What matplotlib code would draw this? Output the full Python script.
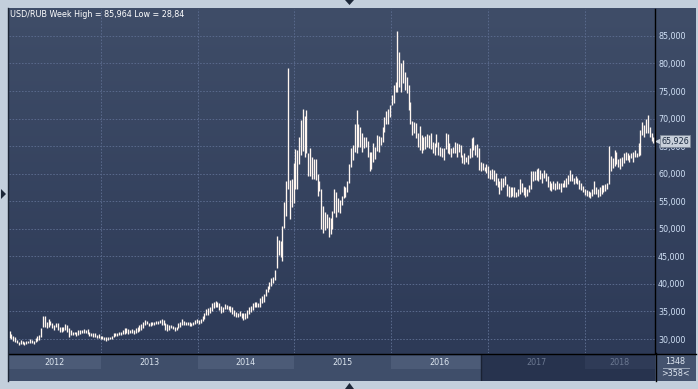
import numpy as np
import pandas as pd
import matplotlib
matplotlib.use("Agg")
import matplotlib.pyplot as plt
import matplotlib.dates as mdates
import matplotlib.transforms as mtransforms
from matplotlib.colors import LinearSegmentedColormap
from matplotlib.lines import Line2D
from matplotlib.patches import Rectangle, Polygon

# =========================
# DATA  (weekly high / low, RUB per USD)
# =========================
FIRST_WEEK = "2012-01-23"

high_2012 = [31.45, 30.90, 30.54, 30.30, 29.82, 29.52, 29.82, 29.70, 29.52, 29.70,
             29.70, 29.94, 29.82, 29.70, 30.12, 30.50, 30.73, 31.94, 34.17, 34.10,
             33.15, 33.57, 33.33, 32.84, 32.54, 32.96, 32.84, 32.24, 32.24, 32.24,
             32.72, 32.54, 31.94, 31.63, 31.33, 31.33, 31.33, 31.63, 31.63, 31.63,
             31.75, 31.70, 31.75, 31.33, 31.03, 31.03, 31.03, 30.73, 30.85, 30.54]
low_2012 = [30.12, 29.95, 29.70, 29.52, 29.21, 28.84, 29.03, 29.09, 28.91, 29.09,
            29.21, 29.33, 29.21, 29.09, 29.52, 29.70, 29.82, 30.42, 32.12, 32.24,
            31.94, 32.24, 32.54, 31.94, 31.63, 32.24, 31.63, 31.33, 31.33, 31.51,
            31.63, 31.33, 30.30, 30.73, 30.73, 30.91, 30.54, 30.73, 30.91, 31.15,
            31.15, 31.00, 30.91, 30.54, 30.54, 30.30, 30.42, 30.12, 30.24, 30.06]

high_2013 = [30.54, 30.42, 30.30, 30.30, 30.42, 30.54, 31.03, 31.03, 31.15, 31.33,
             31.33, 31.60, 31.94, 31.94, 31.75, 31.63, 31.75, 31.63, 31.94, 32.12,
             32.54, 32.72, 33.15, 33.45, 33.33, 32.96, 33.05, 33.15, 33.15, 33.33,
             33.33, 33.45, 33.57, 33.45, 32.84, 32.72, 32.54, 32.54, 32.36, 32.24,
             32.24, 32.84, 33.15, 33.57, 33.33, 33.15, 33.15, 33.15, 32.96, 33.15,
             33.45, 33.57]
low_2013 = [30.06, 29.82, 29.70, 29.82, 29.94, 30.06, 30.42, 30.54, 30.54, 30.73,
            30.73, 30.85, 30.91, 31.03, 30.91, 31.03, 31.03, 30.91, 31.15, 31.33,
            31.51, 31.63, 31.94, 32.54, 32.72, 32.35, 32.45, 32.54, 32.54, 32.72,
            32.72, 32.84, 32.54, 32.54, 31.63, 31.51, 31.63, 31.94, 31.75, 31.51,
            31.63, 31.94, 32.24, 32.54, 32.54, 32.54, 32.54, 32.36, 32.36, 32.54,
            32.72, 32.84]

high_2014 = [33.50, 33.65, 34.20, 34.66, 35.38, 35.57, 35.87, 36.47, 36.78, 36.90,
             36.78, 36.47, 35.99, 35.87, 36.35, 36.17, 35.99, 35.90, 35.87, 35.26,
             34.96, 34.78, 35.14, 34.78, 34.66, 34.66, 35.26, 35.75, 35.99, 36.47,
             36.78, 36.70, 36.59, 37.38, 37.80, 38.16, 39.01, 39.62, 40.41, 41.01,
             41.31, 42.60, 48.70, 48.00, 47.80, 50.50, 54.90, 58.60, 79.10, 58.90,
             59.00, 61.90]
low_2014 = [32.80, 32.90, 33.30, 33.57, 34.36, 34.36, 34.66, 35.14, 35.57, 35.75,
            35.87, 35.26, 34.78, 34.96, 35.38, 35.38, 35.26, 34.90, 34.54, 34.17,
            33.93, 34.05, 34.17, 33.75, 33.45, 33.57, 33.75, 34.54, 34.96, 35.26,
            35.75, 35.75, 35.75, 35.87, 36.59, 36.78, 37.80, 38.59, 39.01, 39.62,
            40.10, 40.71, 42.80, 45.20, 44.90, 44.20, 50.10, 52.30, 57.30, 51.70,
            53.90, 54.70]

high_2015 = [64.40, 64.30, 66.70, 69.70, 71.70, 70.50, 71.50, 63.70, 64.60, 63.10,
             62.60, 62.60, 59.90, 58.70, 57.20, 54.20, 53.00, 52.70, 52.20, 51.90,
             53.30, 57.20, 56.60, 55.50, 55.20, 56.00, 57.80, 57.60, 58.60, 61.80,
             64.60, 65.20, 69.10, 71.60, 69.10, 68.40, 67.30, 66.60, 66.70, 66.00,
             64.00, 64.00, 65.50, 64.90, 67.00, 66.80, 66.60, 68.40, 70.30, 71.40,
             71.70, 72.50]
low_2015 = [57.30, 57.30, 61.80, 63.40, 64.20, 63.00, 63.80, 59.60, 59.50, 59.00,
            59.10, 58.90, 56.00, 56.90, 49.90, 49.20, 49.80, 50.10, 48.50, 49.00,
            50.00, 52.80, 52.20, 53.10, 52.90, 54.30, 55.50, 55.80, 56.60, 58.30,
            61.30, 62.40, 64.00, 63.70, 64.90, 64.80, 64.00, 64.60, 64.80, 63.10,
            60.50, 60.80, 62.20, 62.60, 64.20, 64.00, 65.20, 65.80, 67.60, 69.10,
            69.10, 70.20]

high_2016 = [74.30, 76.10, 76.70, 85.96, 82.10, 80.00, 80.60, 78.50, 77.60, 76.10,
             73.10, 69.60, 69.40, 69.20, 67.30, 68.70, 67.00, 66.70, 66.80, 67.20,
             67.00, 67.30, 65.80, 65.50, 67.20, 65.80, 64.90, 64.60, 64.60, 67.30,
             67.20, 65.50, 64.60, 64.90, 65.80, 65.60, 65.40, 65.20, 63.40, 63.70,
             63.10, 63.40, 64.60, 66.40, 66.60, 65.20, 65.40, 64.60, 62.20, 62.00,
             61.30, 61.80]
low_2016 = [72.50, 72.80, 74.90, 74.90, 75.80, 74.90, 76.40, 75.20, 74.60, 71.60,
            69.10, 67.00, 67.30, 66.50, 64.90, 64.30, 63.80, 64.30, 64.40, 64.90,
            64.60, 64.40, 63.70, 63.40, 64.90, 63.40, 63.20, 63.00, 62.50, 64.40,
            63.80, 63.60, 63.10, 63.80, 63.70, 63.10, 64.00, 63.10, 61.90, 61.80,
            62.20, 61.80, 62.80, 63.00, 64.30, 63.40, 63.10, 60.60, 60.40, 60.70,
            60.40, 60.10]

high_2017 = [61.40, 60.70, 60.80, 60.60, 60.10, 59.20, 58.70, 59.20, 59.30, 59.60,
             58.10, 57.80, 57.50, 57.60, 57.50, 56.70, 57.30, 59.00, 58.40, 57.60,
             57.50, 57.30, 57.90, 60.40, 60.40, 60.50, 60.80, 61.00, 60.70, 60.10,
             60.70, 60.20, 59.50, 58.70, 58.30, 58.60, 58.30, 58.60, 58.40, 58.30,
             58.40, 58.80, 59.30, 59.80, 60.70, 59.90, 59.30, 59.60, 59.30, 58.90,
             58.30, 57.80]
low_2017 = [59.30, 59.00, 59.00, 58.70, 57.90, 57.60, 56.40, 57.00, 57.50, 57.90,
            56.00, 55.80, 55.70, 56.00, 55.70, 55.80, 56.00, 56.30, 56.70, 56.10,
            55.80, 56.00, 56.60, 57.30, 58.60, 58.80, 58.90, 58.60, 59.00, 58.40,
            59.30, 58.60, 57.60, 57.00, 56.90, 57.20, 57.00, 57.30, 57.20, 56.70,
            57.50, 57.50, 57.60, 58.10, 58.70, 58.60, 58.10, 58.30, 58.10, 57.20,
            57.00, 56.60]

high_2018 = [57.30, 57.00, 56.80, 56.70, 57.20, 58.70, 57.50, 57.20, 57.50, 57.90,
             57.90, 58.10, 58.30, 65.00, 63.20, 62.80, 64.30, 64.00, 62.60, 62.80,
             63.00, 63.70, 64.00, 63.70, 63.40, 63.80, 64.00, 64.30, 63.70, 65.50,
             67.90, 69.30, 68.80, 69.90, 70.70, 68.50, 67.30, 66.70]
low_2018 = [56.10, 56.00, 55.70, 55.50, 56.00, 56.30, 56.40, 55.70, 56.00, 56.40,
            56.70, 56.90, 57.20, 58.10, 60.40, 61.00, 61.40, 61.80, 61.20, 60.80,
            61.40, 62.00, 62.40, 62.50, 62.20, 62.80, 62.20, 63.10, 63.10, 63.20,
            63.40, 67.00, 66.70, 67.30, 67.30, 66.70, 65.90, 65.50]

LAST_PRICE = 65.926
TITLE = "USD/RUB Week High = 85,964 Low = 28,84"
Y_TICKS = [30, 35, 40, 45, 50, 55, 60, 65, 70, 75, 80, 85]
YEARS = [2012, 2013, 2014, 2015, 2016, 2017, 2018]
TOTAL_BARS = "1348"
VISIBLE_BARS = ">358<"

highs = high_2012 + high_2013 + high_2014 + high_2015 + high_2016 + high_2017 + high_2018
lows = low_2012 + low_2013 + low_2014 + low_2015 + low_2016 + low_2017 + low_2018
weeks = pd.date_range(FIRST_WEEK, periods=len(highs), freq="W-MON")

# =========================
# LAYOUT
# =========================
W, H = 698, 389
FONT = 5.8
X_LEFT = mdates.date2num(pd.Timestamp("2012-01-20 18:00"))
X_RIGHT = mdates.date2num(pd.Timestamp("2018-09-22 17:00"))
DIM_FROM = mdates.date2num(pd.Timestamp("2016-12-05"))

FRAME = "#c3cfdc"
STRIP = "#3f4e6a"
STRIP_BOX = "#4c5b77"
DIM = "#27334e"
DIM_BOX = "#2f3b57"
GRID = "#58688a"
LABEL = "#d2e2f7"

plt.rcParams["font.family"] = ["DejaVu Sans"]


def rect(x0, y0, x1, y1):
    return [x0 / W, 1 - y1 / H, (x1 - x0) / W, (y1 - y0) / H]


def fig_line(fig, xs, ys, color, lw):
    fig.add_artist(Line2D([x / W for x in xs], [1 - y / H for y in ys],
                          transform=fig.transFigure, color=color, lw=lw))


def fig_tri(fig, pts, color):
    fig.add_artist(Polygon([(x / W, 1 - y / H) for x, y in pts], closed=True,
                           transform=fig.transFigure, fc=color, ec="none"))


def bare(a):
    a.set_xticks([])
    a.set_yticks([])
    for s in a.spines.values():
        s.set_visible(False)


fig = plt.figure(figsize=(W / 100, H / 100), dpi=100, facecolor=FRAME)

# gradient background behind plot + price scale
bg = fig.add_axes(rect(8, 8, 696, 354))
grad = np.linspace(0, 1, 256).reshape(-1, 1)
bg.imshow(grad, cmap=LinearSegmentedColormap.from_list("bg", ["#2d3a57", "#3f4d68"]),
          aspect="auto", extent=[0, 1, 0, 1], origin="lower")
bg.axis("off")

# =========================
# PRICE PANEL
# =========================
ax = fig.add_axes(rect(9, 9, 655, 353))
ax.patch.set_alpha(0)
ax.set_xlim(X_LEFT, X_RIGHT)
ax.set_ylim(27.46, 89.89)

year_starts = [mdates.date2num(pd.Timestamp(f"{y}-01-01")) for y in YEARS[1:]]
ax.set_xticks(year_starts)
ax.set_yticks(Y_TICKS)
ax.set_yticklabels([f"{v:.3f}".replace(".", ",") for v in Y_TICKS])
ax.yaxis.tick_right()
ax.tick_params(axis="y", length=0, pad=2.2, labelsize=FONT, labelcolor=LABEL)
ax.tick_params(axis="x", length=0, labelbottom=False)
ax.grid(True, color=GRID, lw=0.75, linestyle=(0, (1.5, 1.5)))
for s in ["top", "left", "bottom"]:
    ax.spines[s].set_visible(False)
ax.spines["right"].set_color("black")
ax.spines["right"].set_linewidth(1.0)

ax.vlines(weeks, lows, highs, color="#fff6f0", lw=0.95, zorder=3)

# last price marker
trans = mtransforms.blended_transform_factory(ax.transAxes, ax.transData)
ax.plot([1.004], [LAST_PRICE], marker="<", ms=3.2, color="#c8d0da",
        transform=trans, clip_on=False, zorder=10)
ax.text(1.0095, LAST_PRICE, f"{LAST_PRICE:.3f}".replace(".", ","), transform=trans,
        ha="left", va="center", fontsize=FONT, color="#1b2a40", zorder=11,
        clip_on=False,
        bbox=dict(boxstyle="square,pad=0.18", fc="#c8d0da", ec="#7d8898", lw=0.6))

fig.text(10 / W, 1 - 14.5 / H, TITLE, color="white", fontsize=FONT, va="center", ha="left")

# =========================
# YEAR STRIP
# =========================
sx = fig.add_axes(rect(9, 354, 655, 381))
sx.set_facecolor(STRIP)
sx.set_xlim(X_LEFT, X_RIGHT)
sx.set_ylim(0, 1)
bare(sx)

box_y0, box_h = (381 - 369) / 27, (369 - 356) / 27
sx.add_patch(Rectangle((DIM_FROM, 0), X_RIGHT - DIM_FROM, 1, fc=DIM, ec="none", zorder=2))
sx.axvline(DIM_FROM, color="#1a2233", lw=1.0, zorder=2.5)
for y in YEARS:
    a = max(mdates.date2num(pd.Timestamp(f"{y}-01-01")), X_LEFT)
    b = min(mdates.date2num(pd.Timestamp(f"{y + 1}-01-01")), X_RIGHT)
    dim = a >= DIM_FROM
    if y % 2 == 0:
        sx.add_patch(Rectangle((a, box_y0), b - a, box_h, ec="none",
                               fc=DIM_BOX if dim else STRIP_BOX,
                               zorder=3 if dim else 1))
    sx.text((a + b) / 2, box_y0 + box_h / 2, str(y), ha="center", va="center",
            fontsize=FONT, color="#6b7891" if dim else "#dde6f0", zorder=4)

# bar counter box under the price scale
cx = fig.add_axes(rect(655, 354, 696, 381))
cx.set_facecolor("#44536e")
cx.plot([0.2, 0.83], [0.49, 0.49], color="#9aa6b8", lw=0.7)
cx.set_xlim(0, 1)
cx.set_ylim(0, 1)
bare(cx)
cx.text(0.5, 0.74, TOTAL_BARS, ha="center", va="center", fontsize=FONT, color="#e0e8f2")
cx.text(0.5, 0.26, VISIBLE_BARS, ha="center", va="center", fontsize=FONT, color="#e0e8f2")

# frame lines and scroll arrows
fig_line(fig, [9, 696], [353.6, 353.6], "black", 1.0)
fig_line(fig, [655.5, 655.5], [353, 381], "black", 1.0)
fig_line(fig, [8.3, 8.3], [8, 381], "#1c2636", 1.0)
fig_tri(fig, [(345, 0), (354, 0), (349.5, 5)], "#1c2738")
fig_tri(fig, [(345, 389), (354, 389), (349.5, 383)], "#1c2738")
fig_tri(fig, [(1, 189), (1, 199), (6, 194)], "#1c2738")

fig.savefig("out.png", dpi=100, facecolor=fig.get_facecolor())
